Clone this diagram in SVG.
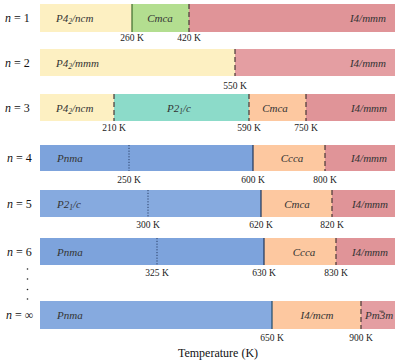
<svg xmlns="http://www.w3.org/2000/svg" width="400" height="362" viewBox="0 0 400 362" font-family="'Liberation Serif', 'DejaVu Serif', 'Times New Roman', serif">
<style>
text{font-family:'Liberation Serif','DejaVu Serif','Times New Roman',serif}
.nl{font-size:12px;fill:#111}
.sg{font-size:11px;font-style:italic;fill:#333}
.tl{font-size:9.5px;fill:#222;text-anchor:middle}
.ti{font-size:12px;fill:#111;text-anchor:middle}
.sub{font-size:7.5px}
.solid{stroke-width:1.2}
.dash{stroke:#4a3838;stroke-width:1.2;stroke-dasharray:5 3}
.dot{stroke:#2a3f66;stroke-width:1;stroke-dasharray:1.2 1.6}
.yel{fill:#fdf0c2}.grn{fill:#b3de90}.pk{fill:#e09498}.pk2{fill:#e49ea2}.tea{fill:#8cdbc9}.pch{fill:#fdc8a0}.blu{fill:#7da3dc}.blu2{fill:#86aadf}
</style>
<g id="row1">
<text class="nl" x="5" y="22"><tspan font-style="italic">n</tspan> = 1</text>
<rect class="yel" x="40" y="4" width="92" height="28"/>
<rect class="grn" x="132" y="4" width="57" height="28"/>
<rect class="pk" x="189" y="4" width="206" height="28"/>
<text class="sg" x="56" y="22">P4<tspan class="sub" dy="2">2</tspan><tspan dy="-2">/ncm</tspan></text>
<text class="sg" x="160" y="22" text-anchor="middle">Cmca</text>
<text class="sg" x="386" y="22" text-anchor="end">I4/mmm</text>
<text class="tl" x="132" y="41">260 K</text>
<text class="tl" x="189" y="41">420 K</text>
</g>
<g id="row2">
<text class="nl" x="5" y="67"><tspan font-style="italic">n</tspan> = 2</text>
<rect class="yel" x="40" y="49" width="195" height="27"/>
<rect class="pk2" x="235" y="49" width="160" height="27"/>
<text class="sg" x="56" y="67">P4<tspan class="sub" dy="2">2</tspan><tspan dy="-2">/mmm</tspan></text>
<text class="sg" x="386" y="67" text-anchor="end">I4/mmm</text>
<text class="tl" x="235" y="89">550 K</text>
</g>
<g id="row3">
<text class="nl" x="5" y="112"><tspan font-style="italic">n</tspan> = 3</text>
<rect class="yel" x="40" y="94" width="74" height="27"/>
<rect class="tea" x="114" y="94" width="135" height="27"/>
<rect class="pch" x="249" y="94" width="57" height="27"/>
<rect class="pk" x="306" y="94" width="89" height="27"/>
<text class="sg" x="56" y="112">P4<tspan class="sub" dy="2">2</tspan><tspan dy="-2">/ncm</tspan></text>
<text class="sg" x="167" y="112">P2<tspan class="sub" dy="2">1</tspan><tspan dy="-2">/c</tspan></text>
<text class="sg" x="275" y="112" text-anchor="middle">Cmca</text>
<text class="sg" x="387" y="112" text-anchor="end">I4/mmm</text>
<text class="tl" x="114" y="131">210 K</text>
<text class="tl" x="249" y="131">590 K</text>
<text class="tl" x="306" y="131">750 K</text>
</g>
<g id="row4">
<text class="nl" x="7" y="162"><tspan font-style="italic">n</tspan> = 4</text>
<rect class="blu" x="40" y="145" width="213" height="26"/>
<rect class="pch" x="253" y="145" width="72" height="26"/>
<rect class="pk" x="325" y="145" width="70" height="26"/>
<text class="sg" x="57" y="162">Pnma</text>
<text class="sg" x="292" y="162" text-anchor="middle">Ccca</text>
<text class="sg" x="387" y="162" text-anchor="end">I4/mmm</text>
<text class="tl" x="129" y="183">250 K</text>
<text class="tl" x="253" y="183">600 K</text>
<text class="tl" x="325" y="183">800 K</text>
</g>
<g id="row5">
<text class="nl" x="7" y="208"><tspan font-style="italic">n</tspan> = 5</text>
<rect class="blu2" x="40" y="190" width="221" height="27"/>
<rect class="pch" x="261" y="190" width="71" height="27"/>
<rect class="pk" x="332" y="190" width="63" height="27"/>
<text class="sg" x="57" y="208">P2<tspan class="sub" dy="2">1</tspan><tspan dy="-2">/c</tspan></text>
<text class="sg" x="297" y="208" text-anchor="middle">Cmca</text>
<text class="sg" x="388" y="208" text-anchor="end">I4/mmm</text>
<text class="tl" x="148" y="228">300 K</text>
<text class="tl" x="261" y="228">620 K</text>
<text class="tl" x="332" y="228">820 K</text>
</g>
<g id="row6">
<text class="nl" x="7" y="256"><tspan font-style="italic">n</tspan> = 6</text>
<rect class="blu" x="40" y="238" width="224" height="27"/>
<rect class="pch" x="264" y="238" width="72" height="27"/>
<rect class="pk" x="336" y="238" width="59" height="27"/>
<text class="sg" x="57" y="256">Pnma</text>
<text class="sg" x="304" y="256" text-anchor="middle">Ccca</text>
<text class="sg" x="388" y="256" text-anchor="end">I4/mmm</text>
<text class="tl" x="157" y="276">325 K</text>
<text class="tl" x="264" y="276">630 K</text>
<text class="tl" x="336" y="276">830 K</text>
</g>
<g id="dots" fill="#222">
<circle cx="27.5" cy="269" r="0.8"/>
<circle cx="27.5" cy="279" r="0.8"/>
<circle cx="27.5" cy="289.5" r="0.8"/>
<circle cx="27.5" cy="299" r="0.8"/>
</g>
<g id="rowinf">
<text class="nl" x="6" y="319"><tspan font-style="italic">n</tspan> = ∞</text>
<rect class="blu2" x="40" y="301" width="232" height="28"/>
<rect class="pch" x="272" y="301" width="89" height="28"/>
<rect class="pk2" x="361" y="301" width="34" height="28"/>
<text class="sg" x="317" y="319" text-anchor="middle">I4/mcm</text>
<text class="sg" x="57" y="319">Pnma</text>
<text class="sg" x="365" y="319">Pm3m</text>
<line x1="379.3" y1="311.2" x2="383.6" y2="311.2" stroke="#333" stroke-width="0.8"/>
<text class="tl" x="272" y="341">650 K</text>
<text class="tl" x="361" y="341">900 K</text>
</g>
<g id="boundaries">
<line class="solid" x1="132" y1="4" x2="132" y2="32" stroke="#3d6b2c"/>
<line class="dash" x1="189" y1="4" x2="189" y2="32"/>
<line class="dash" x1="235" y1="49" x2="235" y2="76"/>
<line class="dash" x1="114" y1="94" x2="114" y2="121" stroke="#2f7f6a"/>
<line class="dash" x1="249" y1="94" x2="249" y2="121" stroke="#2f6f5f"/>
<line class="dash" x1="306" y1="94" x2="306" y2="121"/>
<line class="dot" x1="129" y1="145" x2="129" y2="171"/>
<line class="solid" x1="253" y1="145" x2="253" y2="171" stroke="#1f3558"/>
<line class="dash" x1="325" y1="145" x2="325" y2="171"/>
<line class="dot" x1="148" y1="190" x2="148" y2="217"/>
<line class="solid" x1="261" y1="190" x2="261" y2="217" stroke="#1f3558"/>
<line class="dash" x1="332" y1="190" x2="332" y2="217"/>
<line class="dot" x1="157" y1="238" x2="157" y2="265"/>
<line class="solid" x1="264" y1="238" x2="264" y2="265" stroke="#1f3558"/>
<line class="dash" x1="336" y1="238" x2="336" y2="265"/>
<line class="solid" x1="272" y1="301" x2="272" y2="329" stroke="#1f4a6a"/>
<line class="dash" x1="361" y1="301" x2="361" y2="329"/>
</g>
<text class="ti" x="218" y="357">Temperature (K)</text>
</svg>
